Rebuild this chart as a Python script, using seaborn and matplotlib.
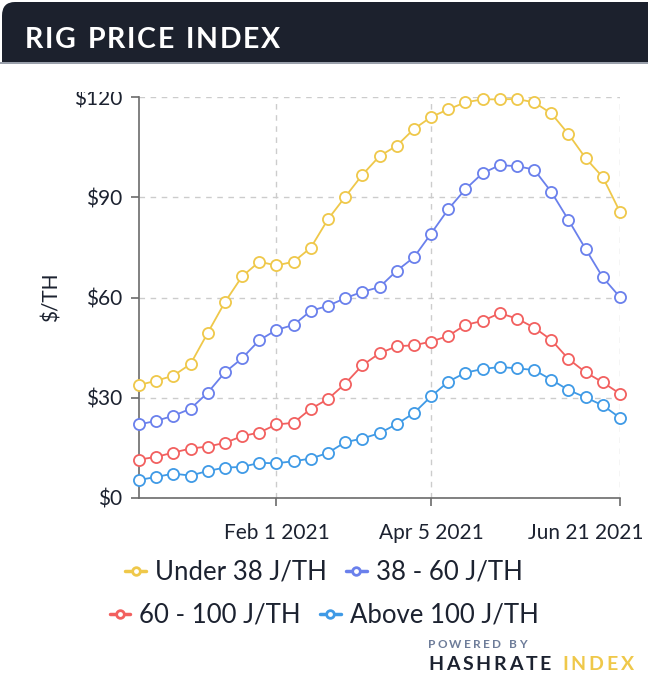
import matplotlib
matplotlib.use('Agg')
import matplotlib.pyplot as plt
from matplotlib.lines import Line2D
from matplotlib.patches import FancyBboxPatch, Rectangle
from matplotlib.transforms import IdentityTransform, ScaledTranslation
import numpy as np
import pandas as pd
import seaborn as sns

# weekly index, Dec 7 2020 .. Jun 21 2021
dates = pd.date_range('2020-12-07', '2021-06-21', freq='7D')

under_38 = [33.8, 35.1, 36.6, 40.1, 49.4, 58.6, 66.3, 70.7, 69.6, 70.7, 74.9, 83.4, 90.1, 96.7, 102.3,
            105.4, 110.4, 114.0, 116.3, 118.4, 119.3, 119.3, 119.4, 118.4, 115.1, 108.9, 101.7, 96.0, 85.6]
j38_60 = [22.0, 23.1, 24.6, 26.7, 31.5, 37.6, 41.8, 47.2, 50.3, 51.8, 56.0, 57.5, 59.8, 61.7, 63.1,
          68.0, 72.0, 79.1, 86.4, 92.4, 97.2, 99.6, 99.3, 98.3, 91.6, 83.2, 74.5, 66.0, 60.1]
j60_100 = [11.5, 12.3, 13.6, 14.8, 15.4, 16.5, 18.5, 19.6, 22.0, 22.5, 26.7, 29.6, 34.2, 39.7, 43.3,
           45.4, 45.7, 46.8, 48.5, 51.8, 53.0, 55.3, 53.7, 51.0, 47.3, 41.6, 37.6, 34.6, 31.2]
above_100 = [5.4, 6.3, 7.3, 6.7, 8.1, 9.1, 9.3, 10.5, 10.4, 11.0, 11.8, 13.5, 16.7, 17.8, 19.4,
             22.1, 25.4, 30.4, 34.8, 37.5, 38.6, 39.2, 38.8, 38.3, 35.4, 32.3, 30.1, 27.7, 24.0]

series_names = ['Under 38 J/TH', '38 - 60 J/TH', '60 - 100 J/TH', 'Above 100 J/TH']
series_colors = ['#efc84a', '#6a80ec', '#f2605f', '#3f9ae6']
x_ticks = ['2021-02-01', '2021-04-05', '2021-06-21']
y_ticks = [0, 30, 60, 90, 120]

df = pd.DataFrame({'date': np.tile(dates, 4),
                   'series': np.repeat(series_names, len(dates)),
                   'price': under_38 + j38_60 + j60_100 + above_100})

sns.set_theme(style='white')
plt.rcParams['font.family'] = ['Lato', 'DejaVu Sans']
text_col = '#1c2230'
axis_col = '#6b6b6b'


def spaced_text(fig, x, y, s, size, spacing, color, weight='normal'):
    # draw letter-spaced text, x/y in pixels from bottom-left
    r = fig.canvas.get_renderer()
    for ch in s:
        if ch == ' ':
            x += size * 1.389 * 0.28 + spacing
            continue
        t = fig.text(x, y, ch, transform=IdentityTransform(), fontsize=size, color=color,
                     fontweight=weight, va='baseline', ha='left')
        x += t.get_window_extent(r).width + spacing
    return x


fig = plt.figure(figsize=(6.48, 6.85), dpi=100)
W, H = 648, 685

# header band
fig.patches.append(FancyBboxPatch((2 / W, (H - 90) / H), 700 / W, 88 / H,
                                  boxstyle='round,pad=0,rounding_size=0.02',
                                  transform=fig.transFigure, facecolor='#1c212d',
                                  edgecolor='none', zorder=0))
fig.patches.append(Rectangle((0, (H - 92) / H), 1, 29 / H, transform=fig.transFigure,
                             facecolor='white', edgecolor='none', zorder=1))
fig.patches.append(Rectangle((0, (H - 64) / H), 1, 1.5 / H, transform=fig.transFigure,
                             facecolor='#9aa0ab', edgecolor='none', zorder=1))

ax = fig.add_axes([139 / W, (H - 498) / H, (620 - 139) / W, (498 - 97) / H])

for name, col in zip(series_names, series_colors):
    sns.lineplot(data=df[df['series'] == name], x='date', y='price', ax=ax, color=col,
                 linewidth=1.3, marker='o', markersize=8, markerfacecolor='white',
                 markeredgecolor=col, markeredgewidth=1.3, clip_on=False, zorder=3)

ax.set_xlim(dates[0], dates[-1])
ax.set_ylim(0, 120)
ax.set_yticks(y_ticks)
ax.set_yticklabels(['$%d' % v for v in y_ticks])
tick_dates = pd.to_datetime(x_ticks)
ax.set_xticks(tick_dates)
ax.set_xticklabels([d.strftime('%b %-d %Y') for d in tick_dates])

ax.grid(True, color='#cccccc', linestyle=(0, (4, 4)), linewidth=1)
ax.set_axisbelow(True)
for s in ['top', 'right']:
    ax.spines[s].set_visible(False)
for s in ['left', 'bottom']:
    ax.spines[s].set_color(axis_col)
    ax.spines[s].set_linewidth(1.2)
ax.tick_params(axis='y', left=True, length=6, width=1.2, color=axis_col, pad=6,
               labelsize=15, labelcolor=text_col)
ax.tick_params(axis='x', bottom=True, length=6, width=1.2, color=axis_col, pad=12,
               labelsize=15, labelcolor=text_col)
# last date label is pulled back inside the figure, as in the original
last = ax.get_xticklabels()[-1]
last.set_horizontalalignment('right')
last.set_transform(last.get_transform() + ScaledTranslation(24 / 100, 0, fig.dpi_scale_trans))
ax.set_xlabel('')
ax.set_ylabel('$/TH', fontsize=15, color=text_col, labelpad=9)
if ax.get_legend():
    ax.get_legend().remove()

# legend in two centred rows
handles = [Line2D([], [], color=c, linewidth=2.5, marker='o', markersize=5.5,
                  markerfacecolor='white', markeredgecolor=c, markeredgewidth=2)
           for c in series_colors]
for row, yy in enumerate([572, 615]):
    fig.legend(handles[2 * row:2 * row + 2], series_names[2 * row:2 * row + 2],
               loc='center', bbox_to_anchor=(0.5, (H - yy) / H), ncol=2, frameon=False,
               fontsize=18.5, labelcolor=text_col, handlelength=0.8, handletextpad=0.35,
               columnspacing=0.75, borderpad=0)

spaced_text(fig, 25, H - 48, 'RIG PRICE INDEX', 20.5, 1.8, 'white', weight='bold')
spaced_text(fig, 428, H - 648, 'POWERED BY', 8.5, 2.2, '#6d7c99', weight='bold')
x_end = spaced_text(fig, 428, H - 670, 'HASHRATE ', 14, 2.8, text_col, weight='bold')
spaced_text(fig, x_end, H - 670, 'INDEX', 14, 2.8, '#efc84a', weight='bold')

fig.savefig('out.png', dpi=100)
